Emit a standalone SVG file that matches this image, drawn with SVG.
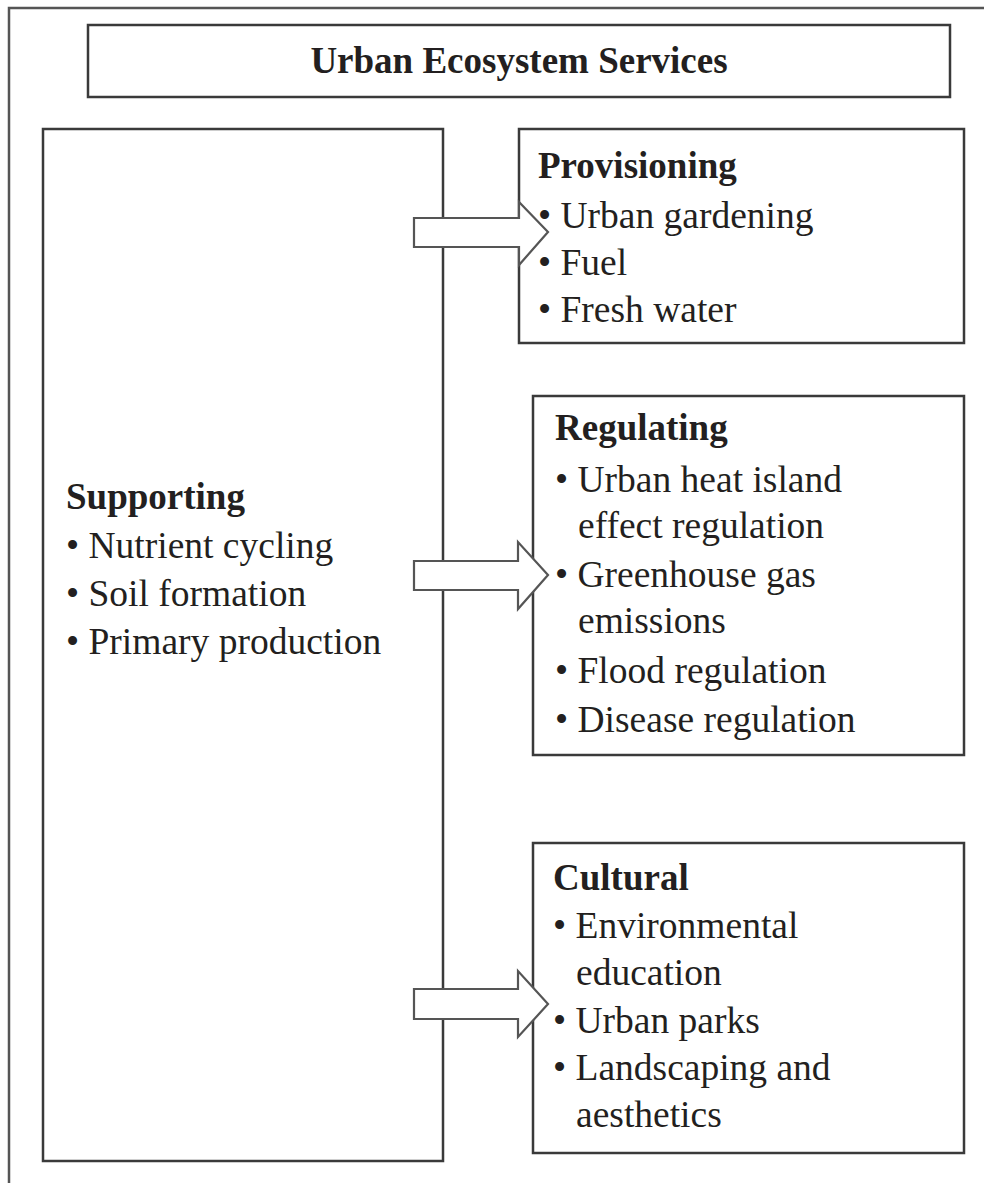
<svg xmlns="http://www.w3.org/2000/svg" width="984" height="1183" viewBox="0 0 984 1183">
<style>
.box{fill:#fff;stroke:#3a3a3a;stroke-width:2.5}
.frame{fill:none;stroke:#555;stroke-width:2.5}
.arrow{fill:#fff;stroke:#555;stroke-width:2.2;stroke-linejoin:miter}
text{font-family:"Liberation Serif","Times New Roman",serif;fill:#231f20;font-size:37.5px}
.h{font-weight:bold;font-size:37px}
</style>
<rect width="984" height="1183" fill="#fff"/>
<path class="frame" d="M9,1183 V8 H984"/>
<g id="title">
<rect class="box" x="88" y="25" width="862" height="72"/>
<text class="h" x="519" y="73" text-anchor="middle">Urban Ecosystem Services</text>
</g>
<g id="supporting">
<rect class="box" x="43" y="129" width="400" height="1032"/>
<text class="h" x="66" y="509">Supporting</text>
<text x="66" y="558">• Nutrient cycling</text>
<text x="66" y="606">• Soil formation</text>
<text x="66" y="654">• Primary production</text>
</g>
<g id="provisioning">
<rect class="box" x="519" y="129" width="445" height="214"/>
<text class="h" x="538" y="178">Provisioning</text>
<text x="538" y="228">• Urban gardening</text>
<text x="538" y="275">• Fuel</text>
<text x="538" y="322">• Fresh water</text>
</g>
<g id="regulating">
<rect class="box" x="533" y="396" width="431" height="359"/>
<text class="h" x="555" y="440">Regulating</text>
<text x="555" y="492">• Urban heat island</text>
<text x="578" y="538">effect regulation</text>
<text x="555" y="587">• Greenhouse gas</text>
<text x="578" y="633">emissions</text>
<text x="555" y="683">• Flood regulation</text>
<text x="555" y="732">• Disease regulation</text>
</g>
<g id="cultural">
<rect class="box" x="533" y="843" width="431" height="310"/>
<text class="h" x="553" y="890">Cultural</text>
<text x="553" y="938">• Environmental</text>
<text x="576" y="985">education</text>
<text x="553" y="1033">• Urban parks</text>
<text x="553" y="1080">• Landscaping and</text>
<text x="576" y="1127">aesthetics</text>
</g>
<g id="connectors">
<polygon class="arrow" points="414,218 519,218 519,202 548,232 519,265 519,247 414,247"/>
<polygon class="arrow" points="414,561 518,561 518,542 548,575 518,609 518,590 414,590"/>
<polygon class="arrow" points="414,989 518,989 518,971 548,1004 518,1037 518,1019 414,1019"/>
</g>
</svg>
